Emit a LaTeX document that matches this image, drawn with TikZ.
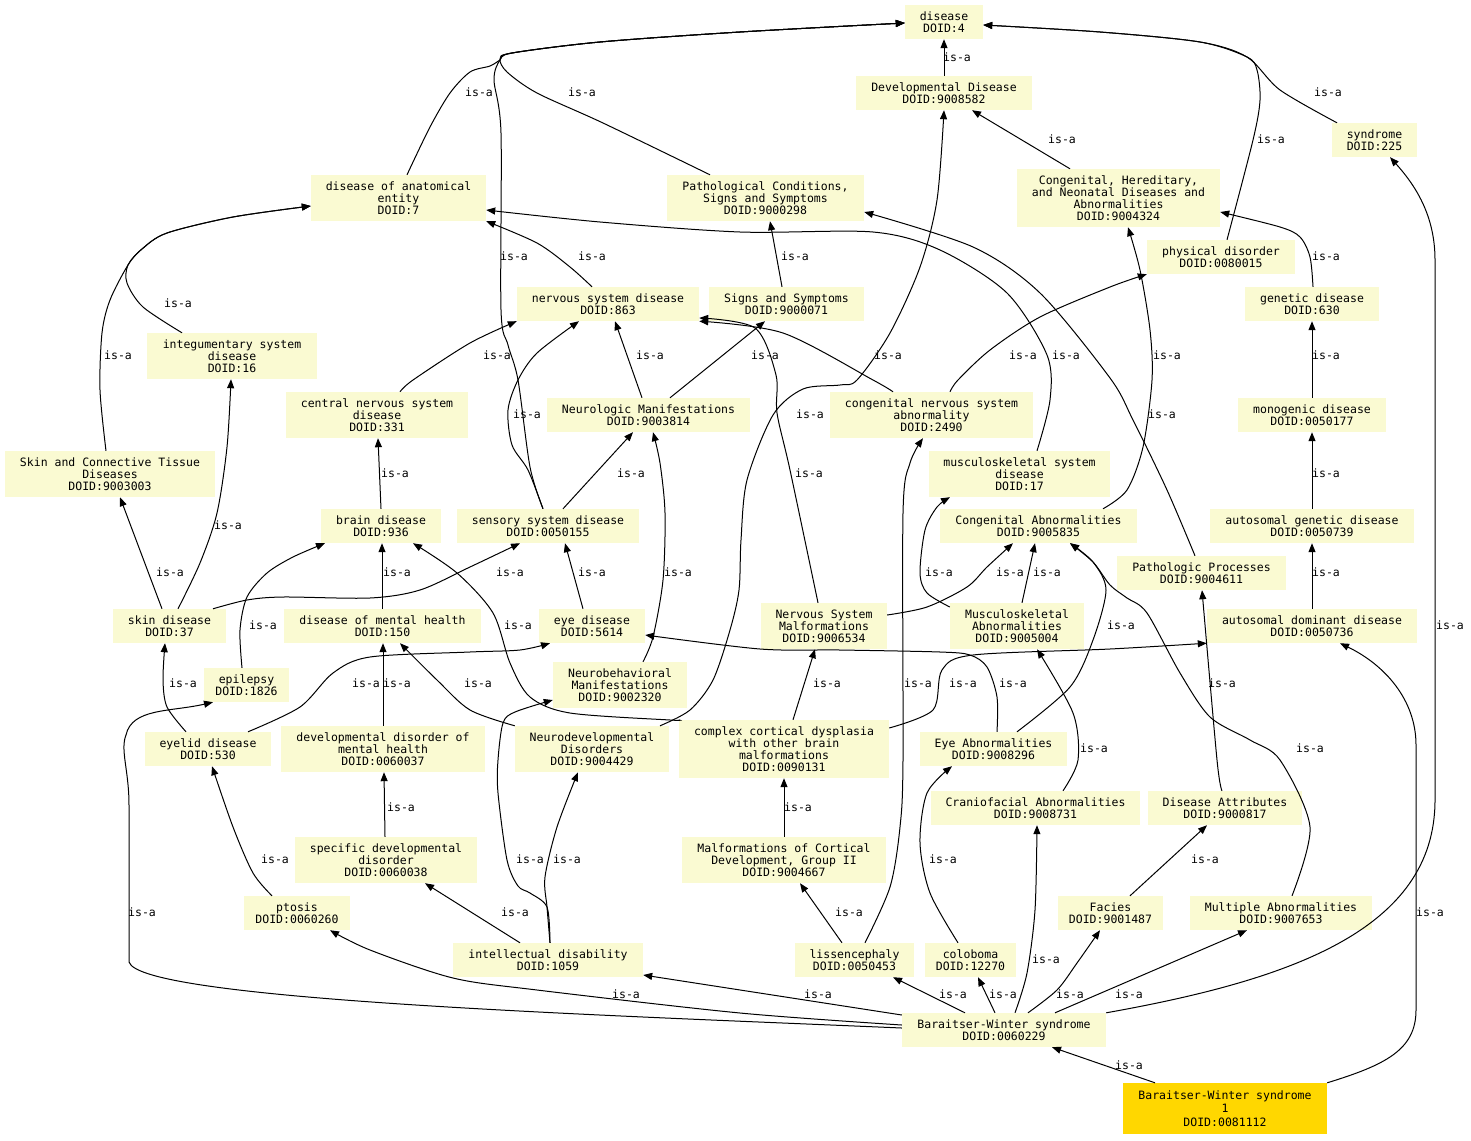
\documentclass[tikz,border=0pt]{standalone}
\usepackage{fontspec}
\setmonofont{DejaVu Sans Mono}
\usetikzlibrary{arrows.meta}
\definecolor{nodefill}{HTML}{FAFAD2}
\definecolor{goldfill}{HTML}{FFD700}
\begin{document}
\begin{tikzpicture}[x=1pt,y=-1pt,
  box/.style={fill=nodefill, inner sep=0pt, align=center, text=black,
    font=\ttfamily\fontsize{11.5}{12}\selectfont},
  bx/.style 2 args={box, minimum width=#1pt, minimum height=#2pt},
  lab/.style={font=\ttfamily\fontsize{11.5}{12}\selectfont, inner sep=0pt, text=black},
  e/.style={line width=1pt, draw=black, -{Triangle[length=9pt,width=7pt]}},
  sm/.style={smooth, tension=0.5}]
\fill[white] (0,0) rectangle (1471,1140);
\useasboundingbox (0,0) rectangle (1471,1140);
% nodes
\node[bx={78}{34}] (d4) at (944,22) {disease\\DOID:4};
\node[bx={176}{34}] (dev) at (944,93) {Developmental Disease\\DOID:9008582};
\node[bx={85}{34}] (syn) at (1374.5,140) {syndrome\\DOID:225};
\node[bx={175}{46}] (dae) at (398.5,198) {disease of anatomical\\entity\\DOID:7};
\node[bx={197}{46}] (pcs) at (765.5,198) {Pathological Conditions,\\Signs and Symptoms\\DOID:9000298};
\node[bx={203}{58}] (chn) at (1118.5,198) {Congenital, Hereditary,\\and Neonatal Diseases and\\Abnormalities\\DOID:9004324};
\node[bx={148}{34}] (phy) at (1221,257) {physical disorder\\DOID:0080015};
\node[bx={134}{34}] (gen) at (1312,304) {genetic disease\\DOID:630};
\node[bx={182}{34}] (nsd) at (608,304) {nervous system disease\\DOID:863};
\node[bx={155}{34}] (sas) at (786.5,304) {Signs and Symptoms\\DOID:9000071};
\node[bx={170}{46}] (int) at (232,356) {integumentary system\\disease\\DOID:16};
\node[bx={182}{46}] (cns) at (377,415) {central nervous system\\disease\\DOID:331};
\node[bx={203}{34}] (nman) at (648.5,415) {Neurologic Manifestations\\DOID:9003814};
\node[bx={203}{46}] (cnsa) at (931.5,415) {congenital nervous system\\abnormality\\DOID:2490};
\node[bx={148}{34}] (mono) at (1312,415) {monogenic disease\\DOID:0050177};
\node[bx={210}{46}] (sct) at (110,474) {Skin and Connective Tissue\\Diseases\\DOID:9003003};
\node[bx={181}{46}] (msd) at (1019.5,474) {musculoskeletal system\\disease\\DOID:17};
\node[bx={120}{34}] (brain) at (381,526) {brain disease\\DOID:936};
\node[bx={182}{34}] (ssd) at (548,526) {sensory system disease\\DOID:0050155};
\node[bx={197}{34}] (ca) at (1038.5,526) {Congenital Abnormalities\\DOID:9005835};
\node[bx={204}{34}] (agd) at (1312,526) {autosomal genetic disease\\DOID:0050739};
\node[bx={169}{34}] (pp) at (1201.5,573) {Pathologic Processes\\DOID:9004611};
\node[bx={113}{34}] (skin) at (169.5,626) {skin disease\\DOID:37};
\node[bx={197}{34}] (dmh) at (382.5,626) {disease of mental health\\DOID:150};
\node[bx={106}{34}] (eye) at (592,626) {eye disease\\DOID:5614};
\node[bx={126}{46}] (nsm) at (824,626) {Nervous System\\Malformations\\DOID:9006534};
\node[bx={134}{46}] (ma) at (1017,626) {Musculoskeletal\\Abnormalities\\DOID:9005004};
\node[bx={210}{34}] (add) at (1312,626) {autosomal dominant disease\\DOID:0050736};
\node[bx={85}{34}] (epi) at (246.5,685) {epilepsy\\DOID:1826};
\node[bx={134}{46}] (nbm) at (620,685) {Neurobehavioral\\Manifestations\\DOID:9002320};
\node[bx={126}{34}] (eyl) at (208,749) {eyelid disease\\DOID:530};
\node[bx={204}{46}] (ddmh) at (383,749) {developmental disorder of\\mental health\\DOID:0060037};
\node[bx={154}{46}] (ndd) at (592,749) {Neurodevelopmental\\Disorders\\DOID:9004429};
\node[bx={210}{58}] (ccd) at (784,749) {complex cortical dysplasia\\with other brain\\malformations\\DOID:0090131};
\node[bx={147}{34}] (eab) at (993.5,749) {Eye Abnormalities\\DOID:9008296};
\node[bx={209}{34}] (cfa) at (1035.5,808) {Craniofacial Abnormalities\\DOID:9008731};
\node[bx={154}{34}] (da) at (1225,808) {Disease Attributes\\DOID:9000817};
\node[bx={182}{46}] (sdd) at (386,860) {specific developmental\\disorder\\DOID:0060038};
\node[bx={204}{46}] (mcd) at (784,860) {Malformations of Cortical\\Development, Group II\\DOID:9004667};
\node[bx={106}{34}] (pto) at (297,913) {ptosis\\DOID:0060260};
\node[bx={105}{34}] (fac) at (1110.5,913) {Facies\\DOID:9001487};
\node[bx={182}{34}] (mab) at (1281,913) {Multiple Abnormalities\\DOID:9007653};
\node[bx={190}{34}] (id) at (548,960) {intellectual disability\\DOID:1059};
\node[bx={119}{34}] (lis) at (854.5,960) {lissencephaly\\DOID:0050453};
\node[bx={91}{34}] (col) at (970.5,960) {coloboma\\DOID:12270};
\node[bx={204}{34}] (bws) at (1004,1030) {Baraitser-Winter syndrome\\DOID:0060229};
\node[bx={204}{51}, fill=goldfill, font=\ttfamily\fontsize{11.5}{13.4}\selectfont] (bws1) at (1225,1108.5) {Baraitser-Winter syndrome\\1\\DOID:0081112};
% edges
\draw[e] (dev.north) -- (d4.south);
\draw[e] plot[sm] coordinates {(syn.north -| 1337,0) (1280,90) (1247,57) (1200,42) (1100,32) (d4.east |- 0,25)};
\draw[e] plot[sm] coordinates {(dae.north -| 407,0) (430,127) (450,93) (470,72) (490,66) (500,60) (512,53) (600,42) (740,32) (d4.west |- 0,23)};
\draw[e] plot[sm] coordinates {(pcs.north -| 710,0) (603,123) (537,93) (507,72) (500,59) (512,53) (600,42) (740,32) (d4.west |- 0,23)};
\draw[e] plot[sm] coordinates {(phy.north -| 1227,0) (1253,140) (1260,100) (1257,70) (1247,57) (1200,42) (1100,32) (d4.east |- 0,25)};
\draw[e] plot[sm] coordinates {(ssd.north -| 543,0) (530,467) (518,380) (508,345) (501,310) (501,133) (494,80) (500,60) (512,53) (600,42) (740,32) (d4.west |- 0,23)};
\draw[e] plot[sm] coordinates {(nsd.north -| 592,0) (570,267) (537,243) (dae.south east)};
\draw[e] plot[sm] coordinates {(int.north -| 182,0) (143,307) (127,283) (128,265) (142,249) (167,233) (233,217) (dae.west |- 0,206)};
\draw[e] plot[sm] coordinates {(sct.north -| 106,0) (100,390) (102,333) (110,300) (128,265) (142,249) (167,233) (233,217) (dae.west |- 0,206)};
\draw[e] plot[sm] coordinates {(msd.north -| 1037,0) (1050,400) (1047,355) (1007,293) (940,250) (873,232) (740,232) (600,222) (dae.east |- 0,210)};
\draw[e] (sas.north -| 782,0) -- (pcs.south -| 770,0);
\draw[e] plot[sm] coordinates {(pp.north -| 1195,0) (1167,490) (1133,420) (1110,378) (1040,293) (973,247) (pcs.east |- 0,212)};
\draw[e] (chn.north -| 1070,0) -- (dev.south -| 972,0);
\draw[e] plot[sm] coordinates {(gen.north -| 1313,0) (1310,257) (1300,237) (1280,227) (chn.east |- 0,212)};
\draw[e] plot[sm] coordinates {(ca.north -| 1103,0) (1127,490) (1143,447) (1152,380) (1150,330) (1140,270) (chn.south -| 1128,0)};
\draw[e] plot[sm] coordinates {(cnsa.north -| 950,0) (958,380) (990,350) (1040,317) (1110,287) (phy.south west)};
\draw[e] (mono.north) -- (gen.south);
\draw[e] (agd.north) -- (mono.south);
\draw[e] (add.north) -- (agd.south);
\draw[e] plot[sm] coordinates {(cns.north -| 400,0) (413,380) (470,343) (nsd.south west)};
\draw[e] (nman.north -| 642,0) -- (nsd.south -| 615,0);
\draw[e] (nman.north -| 670,0) -- (sas.south -| 765,0);
\draw[e] plot[sm] coordinates {(cnsa.north -| 893,0) (873,380) (783,333) (nsd.south east)};
\draw[e] plot[sm] coordinates {(nsm.north -| 818,0) (790,470) (777,413) (776,375) (755,328) (nsd.east |- 0,318)};
\draw[e] plot[sm] coordinates {(ssd.north -| 543,0) (528,470) (512,445) (508,410) (518,380) (537,353) (nsd.south -| 579,0)};
\draw[e] (ssd.north -| 563,0) -- (nman.south -| 633,0);
\draw[e] (brain.north -| 381,0) -- (cns.south -| 378,0);
\draw[e] plot[sm] coordinates {(nbm.north -| 643,0) (653,637) (663,580) (665,513) (660,463) (nman.south -| 653,0)};
\draw[e] (skin.north -| 162,0) -- (sct.south -| 120,0);
\draw[e] plot[sm] coordinates {(skin.north -| 178,0) (200,563) (217,513) (227,447) (int.south -| 231,0)};
\draw[e] plot[sm] coordinates {(skin.north -| 213,0) (247,600) (283,597) (370,598) (420,590) (470,567) (ssd.south -| 520,0)};
\draw[e] plot[sm] coordinates {(epi.north -| 242,0) (240,630) (247,597) (267,573) (293,557) (brain.south -| 325,0)};
\draw[e] (dmh.north -| 382,0) -- (brain.south -| 382,0);
\draw[e] plot[sm] coordinates {(ccd.north west) (670,720) (570,713) (530,697) (510,663) (493,613) (457,573) (brain.south -| 413,0)};
\draw[e] plot[sm] coordinates {(eyl.north -| 186,0) (167,707) (163,680) (skin.south -| 165,0)};
\draw[e] plot[sm] coordinates {(eyl.north -| 248,0) (300,707) (333,673) (370,657) (470,652) (520,650) (eye.south -| 550,0)};
\draw[e] (ddmh.north -| 383,0) -- (dmh.south -| 383,0);
\draw[e] plot[sm] coordinates {(ndd.north west) (470,710) (437,680) (dmh.south -| 400,0)};
\draw[e] plot[sm] coordinates {(ndd.north -| 660,0) (690,710) (713,680) (730,630) (739,590) (741,540) (747,480) (773,415) (803,389) (840,385) (857,380) (890,333) (920,267) (937,200) (dev.south -| 944,0)};
\draw[e] (eye.north -| 583,0) -- (ssd.south -| 565,0);
\draw[e] plot[sm] coordinates {(eab.north -| 997,0) (997,697) (987,667) (970,655) (940,652) (840,650) (760,649) (eye.east |- 0,635)};
\draw[e] plot[sm] coordinates {(eab.north -| 1017,0) (1070,687) (1093,640) (1106,590) (1093,562) (ca.south -| 1070,0)};
\draw[e] plot[sm] coordinates {(ccd.east |- 0,728) (933,710) (942,670) (973,655) (1110,649) (add.south west)};
\draw[e] (ccd.north -| 793,0) -- (nsm.south -| 815,0);
\draw[e] plot[sm] coordinates {(ma.west |- 0,607) (927,593) (920,573) (925,530) (937,507) (msd.south -| 950,0)};
\draw[e] (ma.north -| 1022,0) -- (ca.south -| 1035,0);
\draw[e] plot[sm] coordinates {(nsm.east |- 0,615) (927,607) (967,587) (987,567) (ca.south -| 1013,0)};
\draw[e] plot[sm] coordinates {(lis.north -| 865,0) (890,887) (900,827) (903,760) (903,513) (910,463) (cnsa.south -| 923,0)};
\draw[e] plot[sm] coordinates {(cfa.north -| 1063,0) (1078,760) (1073,713) (ma.south -| 1037,0)};
\draw[e] plot[sm] coordinates {(mab.north -| 1292,0) (1310,827) (1280,760) (1250,740) (1210,717) (1180,673) (1147,613) (1127,598) (1110,585) (1093,562) (ca.south -| 1070,0)};
\draw[e] plot[sm] coordinates {(da.north -| 1222,0) (1217,760) (pp.south -| 1202,0)};
\draw[e] (bws.north east) .. controls (1290,980) and (1435,930) .. (1435,800) -- (1435,260) .. controls (1435,215) and (1415,185) .. (syn.south -| 1390,0);
\draw[e] (bws1.north east) .. controls (1385,1065) and (1416,1050) .. (1416,1010) -- (1416,745) .. controls (1416,700) and (1385,665) .. (add.south -| 1340,0);
\draw[e] (bws1.north -| 1155,0) -- (bws.south -| 1052,0);
\draw[e] (sdd.north -| 385,0) -- (ddmh.south -| 384,0);
\draw[e] (mcd.north) -- (ccd.south);
\draw[e] plot[sm] coordinates {(pto.north -| 272,0) (253,873) (233,827) (eyl.south -| 212,0)};
\draw[e] (id.north -| 520,0) -- (sdd.south -| 425,0);
\draw[e] plot[sm] coordinates {(id.north -| 550,0) (547,907) (545,877) (557,827) (ndd.south -| 578,0)};
\draw[e] plot[sm] coordinates {(id.north -| 550,0) (547,907) (530,893) (518,886) (507,860) (498,793) (498,760) (503,723) (515,712) (nbm.west |- 0,700)};
\draw[e] (lis.north -| 842,0) -- (mcd.south -| 800,0);
\draw[e] plot[sm] coordinates {(col.north -| 958,0) (930,893) (920,843) (927,793) (eab.south -| 952,0)};
\draw[e] (fac.north -| 1130,0) -- (da.south -| 1207,0);
\draw[e] plot[sm] coordinates {(bws.west |- 0,1025) (740,1013) (537,990) (453,978) (370,950) (pto.south -| 330,0)};
\draw[e] (bws.west |- 0,1015) -- (id.east |- 0,975);
\draw[e] (bws.west |- 0,1028) .. controls (600,1015) and (140,1000) .. (129,962) -- (129,805) .. controls (129,770) and (120,750) .. (126,735) .. controls (132,708) and (170,712) .. (epi.south -| 213,0);
\draw[e] (bws.north -| 965,0) -- (lis.south -| 893,0);
\draw[e] (bws.north -| 995,0) -- (col.south -| 978,0);
\draw[e] plot[sm] coordinates {(bws.north -| 1015,0) (1027,973) (1035,910) (cfa.south -| 1037,0)};
\draw[e] plot[sm] coordinates {(bws.north -| 1028,0) (1057,990) (1077,963) (fac.south -| 1100,0)};
\draw[e] (bws.north -| 1055,0) -- (mab.south -| 1247,0);
% labels
\node[lab] (l1) at (957,57) {is-a};
\node[lab] (l2) at (479,92) {is-a};
\node[lab] (l3) at (582,92) {is-a};
\node[lab] (l4) at (1328,92) {is-a};
\node[lab] (l5) at (1062,139) {is-a};
\node[lab] (l6) at (1271,139) {is-a};
\node[lab] (l7) at (178,303) {is-a};
\node[lab] (l8) at (592,256) {is-a};
\node[lab] (l9) at (514,256) {is-a};
\node[lab] (l10) at (795,256) {is-a};
\node[lab] (l11) at (1326,256) {is-a};
\node[lab] (l12) at (118,355) {is-a};
\node[lab] (l13) at (497,355) {is-a};
\node[lab] (l14) at (650,355) {is-a};
\node[lab] (l15) at (765,355) {is-a};
\node[lab] (l16) at (888,355) {is-a};
\node[lab] (l17) at (1023,355) {is-a};
\node[lab] (l18) at (1066,355) {is-a};
\node[lab] (l19) at (1167,355) {is-a};
\node[lab] (l20) at (1326,355) {is-a};
\node[lab] (l21) at (527,414) {is-a};
\node[lab] (l22) at (810,414) {is-a};
\node[lab] (l23) at (1162,414) {is-a};
\node[lab] (l24) at (395,473) {is-a};
\node[lab] (l25) at (631,473) {is-a};
\node[lab] (l26) at (809,473) {is-a};
\node[lab] (l27) at (1326,473) {is-a};
\node[lab] (l28) at (228,525) {is-a};
\node[lab] (l29) at (170,572) {is-a};
\node[lab] (l30) at (397,572) {is-a};
\node[lab] (l31) at (510,572) {is-a};
\node[lab] (l32) at (592,572) {is-a};
\node[lab] (l33) at (678,572) {is-a};
\node[lab] (l34) at (939,572) {is-a};
\node[lab] (l35) at (1010,572) {is-a};
\node[lab] (l36) at (1047,572) {is-a};
\node[lab] (l37) at (1326,572) {is-a};
\node[lab] (l38) at (263,625) {is-a};
\node[lab] (l39) at (518,625) {is-a};
\node[lab] (l40) at (1121,625) {is-a};
\node[lab] (l41) at (1450,625) {is-a};
\node[lab] (l42) at (183,683) {is-a};
\node[lab] (l43) at (366,683) {is-a};
\node[lab] (l44) at (397,683) {is-a};
\node[lab] (l45) at (478,683) {is-a};
\node[lab] (l46) at (827,683) {is-a};
\node[lab] (l47) at (918,683) {is-a};
\node[lab] (l48) at (963,683) {is-a};
\node[lab] (l49) at (1013,683) {is-a};
\node[lab] (l50) at (1222,683) {is-a};
\node[lab] (l51) at (1094,748) {is-a};
\node[lab] (l52) at (1310,748) {is-a};
\node[lab] (l53) at (401,807) {is-a};
\node[lab] (l54) at (798,807) {is-a};
\node[lab] (l55) at (275,859) {is-a};
\node[lab] (l56) at (530,859) {is-a};
\node[lab] (l57) at (567,859) {is-a};
\node[lab] (l58) at (943,859) {is-a};
\node[lab] (l59) at (1205,859) {is-a};
\node[lab] (l60) at (142,912) {is-a};
\node[lab] (l61) at (515,912) {is-a};
\node[lab] (l62) at (849,912) {is-a};
\node[lab] (l63) at (1430,912) {is-a};
\node[lab] (l64) at (1046,959) {is-a};
\node[lab] (l65) at (626,994) {is-a};
\node[lab] (l66) at (818,994) {is-a};
\node[lab] (l67) at (953,994) {is-a};
\node[lab] (l68) at (1003,994) {is-a};
\node[lab] (l69) at (1070,994) {is-a};
\node[lab] (l70) at (1129,994) {is-a};
\node[lab] (l71) at (1129,1065) {is-a};
\end{tikzpicture}
\end{document}
